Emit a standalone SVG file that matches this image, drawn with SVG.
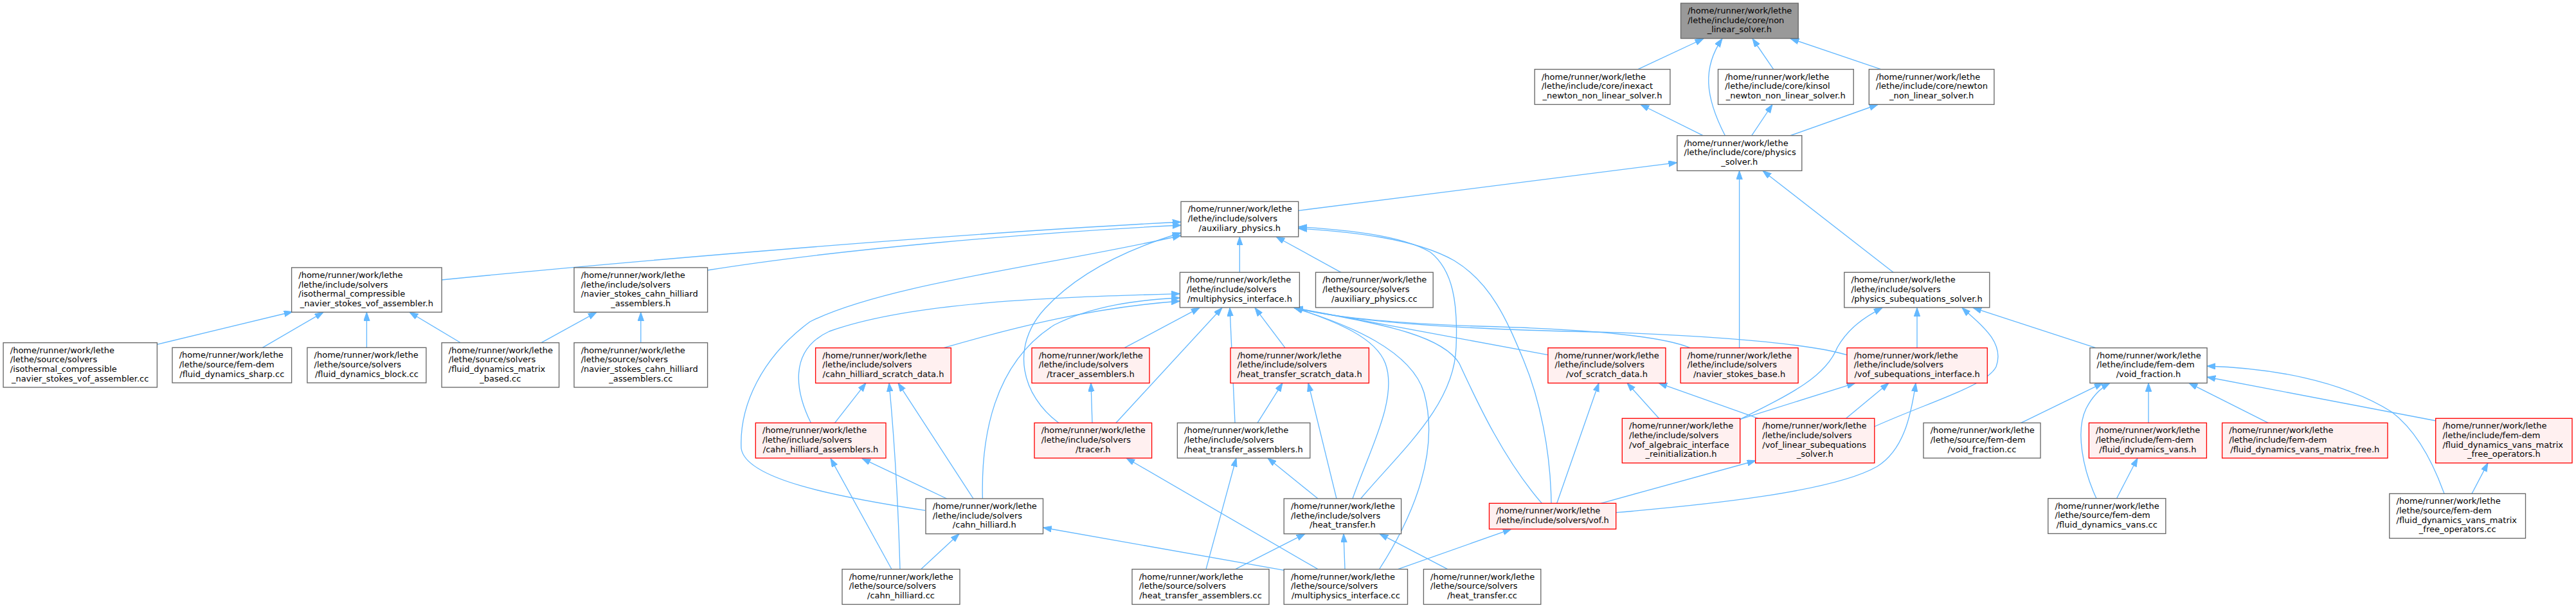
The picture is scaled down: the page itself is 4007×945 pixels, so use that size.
<svg xmlns="http://www.w3.org/2000/svg" width="4007" height="945" viewBox="0 0 4007 945">
<style>
.n rect{fill:#ffffff;stroke:#666666;stroke-width:1.33}
.r rect{fill:#fff0f0;stroke:#ff0000;stroke-width:1.33}
.root rect{fill:#999999;stroke:#666666;stroke-width:1.33}
text{font-family:"DejaVu Sans","Liberation Sans",sans-serif;font-size:13px;fill:#000000}
.m{text-anchor:middle}
#edges path{fill:none;stroke:#63b8ff;stroke-width:1.33;marker-end:url(#ah)}
</style>
<defs>
<marker id="ah" markerUnits="userSpaceOnUse" markerWidth="14" markerHeight="10" refX="13.3" refY="4.7" orient="auto">
<path d="M0,0 L13.3,4.7 L0,9.4 Z" fill="#63b8ff" stroke="#63b8ff" stroke-width="1"/>
</marker>
</defs>
<rect width="4007" height="945" fill="#ffffff"/>
<g id="edges">
<path d="M2548,107.7 L2650,60"/>
<path d="M2683.4,210.7 C2652,150 2648,105 2679,60"/>
<path d="M2758.6,107.7 L2726,60"/>
<path d="M2925.7,107.7 L2785,60"/>
<path d="M2649,210.7 L2552,162.5"/>
<path d="M2724.8,210.7 L2757,162.5"/>
<path d="M2785,210.7 L2921,162.5"/>
<path d="M2019.7,327.3 L2608.8,252.7"/>
<path d="M2705.6,540.7 L2705.6,265.4"/>
<path d="M2945,423.3 L2742,265.4"/>
<path d="M687.1,435 C1000,404 1500,362 1837,345"/>
<path d="M1100.6,420 C1300,388 1600,362 1837,350"/>
<path d="M1928.3,423.3 L1928.3,368"/>
<path d="M2086,423.3 L1985,368"/>
<path d="M1439,793.3 C1300,772 1160,745 1153,697 C1150,630 1185,555 1260,500 C1380,440 1650,410 1837,366"/>
<path d="M1646.7,657.3 C1590,615 1570,540 1625,480 C1680,420 1760,385 1837,362"/>
<path d="M2116.6,775 C2180,700 2262,630 2265,540 C2268,470 2260,420 2225,392 C2180,365 2090,357 2019.7,352.5"/>
<path d="M2413,782.3 C2412,700 2395,620 2370,560 C2345,500 2320,440 2262,405 C2200,370 2100,360 2019.7,355"/>
<path d="M244.4,535.3 L455,484.5"/>
<path d="M408.3,540.3 L503,485.3"/>
<path d="M570.4,540.3 L570.4,485.3"/>
<path d="M716.5,532.7 L637,485.3"/>
<path d="M842,532.7 L928,485.3"/>
<path d="M996.8,532.7 L996.8,485.3"/>
<path d="M1468,540.7 C1580,508 1700,478 1835.4,468"/>
<path d="M1261.4,657.3 C1238,610 1225,545 1290,515 C1420,468 1650,462 1835.4,456.5"/>
<path d="M1528.4,775 C1526,680 1545,565 1640,505 C1700,475 1770,466 1835.4,463"/>
<path d="M1749,540.7 L1866,478.3"/>
<path d="M1736,657.3 L1901,478.3"/>
<path d="M1921,657.3 L1913,478.3"/>
<path d="M1999,540.7 L1952,478.3"/>
<path d="M2408,551.7 L2013,478.3"/>
<path d="M2629,540.7 C2580,520 2450,511 2300,507 C2180,503 2080,495 2013,478.3"/>
<path d="M2873,551.7 C2800,530 2600,518 2440,515 C2250,510 2100,500 2013,478.3"/>
<path d="M2104,775 C2130,700 2175,620 2155,565 C2140,525 2080,500 2013,478.3"/>
<path d="M2145.6,884.7 C2200,800 2240,700 2215,610 C2195,545 2100,505 2013,478.3"/>
<path d="M2398.3,782.3 C2340,715 2300,630 2270,565 C2240,515 2120,500 2013,478.3"/>
<path d="M2706.7,651.7 C2790,610 2840,585 2858,540 C2875,510 2900,493 2928,478.3"/>
<path d="M2915.8,663 C3000,625 3090,600 3105,570 C3120,530 3075,500 3052,478.3"/>
<path d="M3260,540.7 L3069,478.3"/>
<path d="M2982,540.7 L2982,478.3"/>
<path d="M2706.7,651.7 L2886,595.3"/>
<path d="M2871.6,650.3 L2938,595.3"/>
<path d="M2513.7,796.7 C2650,785 2850,765 2920,725 C2960,700 2972,650 2980,595.3"/>
<path d="M2580.5,650.3 L2531,595.3"/>
<path d="M2735,650.3 L2580,595.3"/>
<path d="M2421.7,782.3 L2487,595.3"/>
<path d="M2490,782.3 L2731,716"/>
<path d="M3143.6,657.3 L3271,595.3"/>
<path d="M3261,774.7 C3240,730 3228,670 3245,635 C3255,615 3268,603 3282,595.3"/>
<path d="M3342,657.3 L3342,595.3"/>
<path d="M3528.3,657.3 L3405,595.3"/>
<path d="M3789,654 L3433,586"/>
<path d="M3802,767.3 C3785,720 3760,670 3720,640 C3640,590 3530,572 3433,569"/>
<path d="M3292.5,774.7 L3325,712"/>
<path d="M3845,767.3 L3870,719.6"/>
<path d="M1298.5,657.3 L1347,595.3"/>
<path d="M1400,884.7 C1397,780 1390,670 1383,595.3"/>
<path d="M1514,775 L1397,595.3"/>
<path d="M1472.6,775 L1341,712.6"/>
<path d="M1387,884.7 L1292,712.6"/>
<path d="M1432.6,884.7 L1492,829.7"/>
<path d="M1999,886.7 L1622.5,820"/>
<path d="M2050,884.7 L1752,712"/>
<path d="M2092,884.7 L2090,829.7"/>
<path d="M2174.6,884.7 L2351,822.3"/>
<path d="M1876,884.7 L1923,712"/>
<path d="M1921.8,884.7 L2030,829.7"/>
<path d="M2251.7,884.7 L2146,829.7"/>
<path d="M1956,657.3 L1995,595.3"/>
<path d="M2079,775 L2035,595.3"/>
<path d="M2050,775 L1972,712"/>
<path d="M1699,657.3 L1697,595.3"/>
</g>
<g id="node-A" class="root"><rect x="2614.5" y="5" width="182.7" height="54.7"/><text x="2625.2" y="21">/home/runner/work/lethe</text><text x="2625.2" y="35.7">/lethe/include/core/non</text><text class="m" x="2705.8" y="50.3">_linear_solver.h</text></g>
<g id="node-B1" class="n"><rect x="2387.2" y="107.7" width="210.7" height="54.7"/><text x="2397.9" y="123.7">/home/runner/work/lethe</text><text x="2397.9" y="138.4">/lethe/include/core/inexact</text><text class="m" x="2492.5" y="153">_newton_non_linear_solver.h</text></g>
<g id="node-B2" class="n"><rect x="2672.5" y="107.7" width="210.7" height="54.7"/><text x="2683.2" y="123.7">/home/runner/work/lethe</text><text x="2683.2" y="138.4">/lethe/include/core/kinsol</text><text class="m" x="2777.8" y="153">_newton_non_linear_solver.h</text></g>
<g id="node-B3" class="n"><rect x="2907.3" y="107.7" width="194.6" height="54.7"/><text x="2918" y="123.7">/home/runner/work/lethe</text><text x="2918" y="138.4">/lethe/include/core/newton</text><text class="m" x="3004.6" y="153">_non_linear_solver.h</text></g>
<g id="node-C" class="n"><rect x="2608.8" y="210.7" width="194" height="54.7"/><text x="2619.5" y="226.7">/home/runner/work/lethe</text><text x="2619.5" y="241.4">/lethe/include/core/physics</text><text class="m" x="2705.8" y="256">_solver.h</text></g>
<g id="node-D" class="n"><rect x="1837" y="313.3" width="182.7" height="54.7"/><text x="1847.7" y="329.3">/home/runner/work/lethe</text><text x="1847.7" y="344">/lethe/include/solvers</text><text class="m" x="1928.3" y="358.6">/auxiliary_physics.h</text></g>
<g id="node-G" class="n"><rect x="1835.4" y="423.3" width="186" height="54.7"/><text x="1846.1" y="439.3">/home/runner/work/lethe</text><text x="1846.1" y="454">/lethe/include/solvers</text><text class="m" x="1928.4" y="468.6">/multiphysics_interface.h</text></g>
<g id="node-G2" class="n"><rect x="2046.5" y="423.3" width="182.7" height="54.7"/><text x="2057.2" y="439.3">/home/runner/work/lethe</text><text x="2057.2" y="454">/lethe/source/solvers</text><text class="m" x="2137.8" y="468.6">/auxiliary_physics.cc</text></g>
<g id="node-E" class="n"><rect x="2868.8" y="423.3" width="226" height="54.7"/><text x="2879.5" y="439.3">/home/runner/work/lethe</text><text x="2879.5" y="454">/lethe/include/solvers</text><text class="m" x="2981.8" y="468.6">/physics_subequations_solver.h</text></g>
<g id="node-F1" class="n"><rect x="453.6" y="415.9" width="233.5" height="69.3"/><text x="464.3" y="431.9">/home/runner/work/lethe</text><text x="464.3" y="446.6">/lethe/include/solvers</text><text x="464.3" y="461.2">/isothermal_compressible</text><text class="m" x="570.3" y="475.9">_navier_stokes_vof_assembler.h</text></g>
<g id="node-F2" class="n"><rect x="893" y="415.9" width="207.6" height="69.3"/><text x="903.7" y="431.9">/home/runner/work/lethe</text><text x="903.7" y="446.6">/lethe/include/solvers</text><text x="903.7" y="461.2">/navier_stokes_cahn_hilliard</text><text class="m" x="996.8" y="475.9">_assemblers.h</text></g>
<g id="node-H1" class="n"><rect x="5.1" y="532.7" width="239.3" height="69.3"/><text x="15.8" y="548.7">/home/runner/work/lethe</text><text x="15.8" y="563.4">/lethe/source/solvers</text><text x="15.8" y="578">/isothermal_compressible</text><text class="m" x="124.7" y="592.7">_navier_stokes_vof_assembler.cc</text></g>
<g id="node-H2" class="n"><rect x="268" y="540.3" width="185.6" height="54.7"/><text x="278.7" y="556.3">/home/runner/work/lethe</text><text x="278.7" y="571">/lethe/source/fem-dem</text><text class="m" x="360.8" y="585.6">/fluid_dynamics_sharp.cc</text></g>
<g id="node-H3" class="n"><rect x="477.9" y="540.3" width="185" height="54.7"/><text x="488.6" y="556.3">/home/runner/work/lethe</text><text x="488.6" y="571">/lethe/source/solvers</text><text class="m" x="570.4" y="585.6">/fluid_dynamics_block.cc</text></g>
<g id="node-H4" class="n"><rect x="687.1" y="532.7" width="182.5" height="69.3"/><text x="697.8" y="548.7">/home/runner/work/lethe</text><text x="697.8" y="563.4">/lethe/source/solvers</text><text x="697.8" y="578">/fluid_dynamics_matrix</text><text class="m" x="778.3" y="592.7">_based.cc</text></g>
<g id="node-H5" class="n"><rect x="893" y="532.7" width="207.6" height="69.3"/><text x="903.7" y="548.7">/home/runner/work/lethe</text><text x="903.7" y="563.4">/lethe/source/solvers</text><text x="903.7" y="578">/navier_stokes_cahn_hilliard</text><text class="m" x="996.8" y="592.7">_assemblers.cc</text></g>
<g id="node-I1" class="r"><rect x="1268.6" y="540.7" width="210.7" height="54.7"/><text x="1279.3" y="556.7">/home/runner/work/lethe</text><text x="1279.3" y="571.4">/lethe/include/solvers</text><text class="m" x="1374" y="586">/cahn_hilliard_scratch_data.h</text></g>
<g id="node-I2" class="r"><rect x="1605" y="540.7" width="183" height="54.7"/><text x="1615.7" y="556.7">/home/runner/work/lethe</text><text x="1615.7" y="571.4">/lethe/include/solvers</text><text class="m" x="1696.5" y="586">/tracer_assemblers.h</text></g>
<g id="node-I3" class="r"><rect x="1914" y="540.7" width="215.4" height="54.7"/><text x="1924.7" y="556.7">/home/runner/work/lethe</text><text x="1924.7" y="571.4">/lethe/include/solvers</text><text class="m" x="2021.7" y="586">/heat_transfer_scratch_data.h</text></g>
<g id="node-I4" class="r"><rect x="2407.9" y="540.7" width="183" height="54.7"/><text x="2418.6" y="556.7">/home/runner/work/lethe</text><text x="2418.6" y="571.4">/lethe/include/solvers</text><text class="m" x="2499.4" y="586">/vof_scratch_data.h</text></g>
<g id="node-I5" class="r"><rect x="2614.1" y="540.7" width="183" height="54.7"/><text x="2624.8" y="556.7">/home/runner/work/lethe</text><text x="2624.8" y="571.4">/lethe/include/solvers</text><text class="m" x="2705.6" y="586">/navier_stokes_base.h</text></g>
<g id="node-I6" class="r"><rect x="2873" y="540.7" width="218.3" height="54.7"/><text x="2883.7" y="556.7">/home/runner/work/lethe</text><text x="2883.7" y="571.4">/lethe/include/solvers</text><text class="m" x="2982.1" y="586">/vof_subequations_interface.h</text></g>
<g id="node-V" class="n"><rect x="3250.9" y="540.7" width="182.2" height="54.7"/><text x="3261.6" y="556.7">/home/runner/work/lethe</text><text x="3261.6" y="571.4">/lethe/include/fem-dem</text><text class="m" x="3342" y="586">/void_fraction.h</text></g>
<g id="node-J1" class="r"><rect x="1175.3" y="657.3" width="202.7" height="54.7"/><text x="1186" y="673.3">/home/runner/work/lethe</text><text x="1186" y="688">/lethe/include/solvers</text><text class="m" x="1276.6" y="702.6">/cahn_hilliard_assemblers.h</text></g>
<g id="node-J2" class="r"><rect x="1609" y="657.3" width="182.6" height="54.7"/><text x="1619.7" y="673.3">/home/runner/work/lethe</text><text x="1619.7" y="688">/lethe/include/solvers</text><text class="m" x="1700.3" y="702.6">/tracer.h</text></g>
<g id="node-J3" class="n"><rect x="1831.4" y="657.3" width="206.4" height="54.7"/><text x="1842.1" y="673.3">/home/runner/work/lethe</text><text x="1842.1" y="688">/lethe/include/solvers</text><text class="m" x="1934.6" y="702.6">/heat_transfer_assemblers.h</text></g>
<g id="node-J4" class="r"><rect x="2523.3" y="650.3" width="183.4" height="69.3"/><text x="2534" y="666.3">/home/runner/work/lethe</text><text x="2534" y="681">/lethe/include/solvers</text><text x="2534" y="695.6">/vof_algebraic_interface</text><text class="m" x="2615" y="710.3">_reinitialization.h</text></g>
<g id="node-J5" class="r"><rect x="2730.6" y="650.3" width="185.2" height="69.3"/><text x="2741.3" y="666.3">/home/runner/work/lethe</text><text x="2741.3" y="681">/lethe/include/solvers</text><text x="2741.3" y="695.6">/vof_linear_subequations</text><text class="m" x="2823.2" y="710.3">_solver.h</text></g>
<g id="node-J6" class="n"><rect x="2992" y="657.3" width="182" height="54.7"/><text x="3002.7" y="673.3">/home/runner/work/lethe</text><text x="3002.7" y="688">/lethe/source/fem-dem</text><text class="m" x="3083" y="702.6">/void_fraction.cc</text></g>
<g id="node-J7" class="r"><rect x="3249.4" y="657.3" width="183" height="54.7"/><text x="3260.1" y="673.3">/home/runner/work/lethe</text><text x="3260.1" y="688">/lethe/include/fem-dem</text><text class="m" x="3340.9" y="702.6">/fluid_dynamics_vans.h</text></g>
<g id="node-J8" class="r"><rect x="3456.6" y="657.3" width="257.4" height="54.7"/><text x="3467.3" y="673.3">/home/runner/work/lethe</text><text x="3467.3" y="688">/lethe/include/fem-dem</text><text class="m" x="3585.3" y="702.6">/fluid_dynamics_vans_matrix_free.h</text></g>
<g id="node-J9" class="r"><rect x="3788.7" y="650.3" width="212.3" height="69.3"/><text x="3799.4" y="666.3">/home/runner/work/lethe</text><text x="3799.4" y="681">/lethe/include/fem-dem</text><text x="3799.4" y="695.6">/fluid_dynamics_vans_matrix</text><text class="m" x="3894.9" y="710.3">_free_operators.h</text></g>
<g id="node-K1" class="n"><rect x="1440" y="775" width="182.5" height="54.7"/><text x="1450.7" y="791">/home/runner/work/lethe</text><text x="1450.7" y="805.7">/lethe/include/solvers</text><text class="m" x="1531.3" y="820.3">/cahn_hilliard.h</text></g>
<g id="node-K2" class="n"><rect x="1997.2" y="775" width="182.4" height="54.7"/><text x="2007.9" y="791">/home/runner/work/lethe</text><text x="2007.9" y="805.7">/lethe/include/solvers</text><text class="m" x="2088.4" y="820.3">/heat_transfer.h</text></g>
<g id="node-K3" class="r"><rect x="2316.5" y="782.3" width="197.2" height="40"/><text x="2327.2" y="798.3">/home/runner/work/lethe</text><text class="m" x="2415.1" y="813">/lethe/include/solvers/vof.h</text></g>
<g id="node-K4" class="n"><rect x="3185.8" y="774.7" width="183" height="54.7"/><text x="3196.5" y="790.7">/home/runner/work/lethe</text><text x="3196.5" y="805.4">/lethe/source/fem-dem</text><text class="m" x="3277.3" y="820">/fluid_dynamics_vans.cc</text></g>
<g id="node-K5" class="n"><rect x="3716.8" y="767.3" width="211.7" height="69.3"/><text x="3727.5" y="783.3">/home/runner/work/lethe</text><text x="3727.5" y="798">/lethe/source/fem-dem</text><text x="3727.5" y="812.6">/fluid_dynamics_vans_matrix</text><text class="m" x="3822.7" y="827.3">_free_operators.cc</text></g>
<g id="node-L1" class="n"><rect x="1310" y="884.7" width="183" height="54.7"/><text x="1320.7" y="900.7">/home/runner/work/lethe</text><text x="1320.7" y="915.4">/lethe/source/solvers</text><text class="m" x="1401.5" y="930">/cahn_hilliard.cc</text></g>
<g id="node-L2" class="n"><rect x="1761" y="884.7" width="213" height="54.7"/><text x="1771.7" y="900.7">/home/runner/work/lethe</text><text x="1771.7" y="915.4">/lethe/source/solvers</text><text class="m" x="1867.5" y="930">/heat_transfer_assemblers.cc</text></g>
<g id="node-L3" class="n"><rect x="1997.2" y="884.7" width="192.3" height="54.7"/><text x="2007.9" y="900.7">/home/runner/work/lethe</text><text x="2007.9" y="915.4">/lethe/source/solvers</text><text class="m" x="2093.4" y="930">/multiphysics_interface.cc</text></g>
<g id="node-L4" class="n"><rect x="2214.4" y="884.7" width="182.4" height="54.7"/><text x="2225.1" y="900.7">/home/runner/work/lethe</text><text x="2225.1" y="915.4">/lethe/source/solvers</text><text class="m" x="2305.6" y="930">/heat_transfer.cc</text></g>
</svg>
